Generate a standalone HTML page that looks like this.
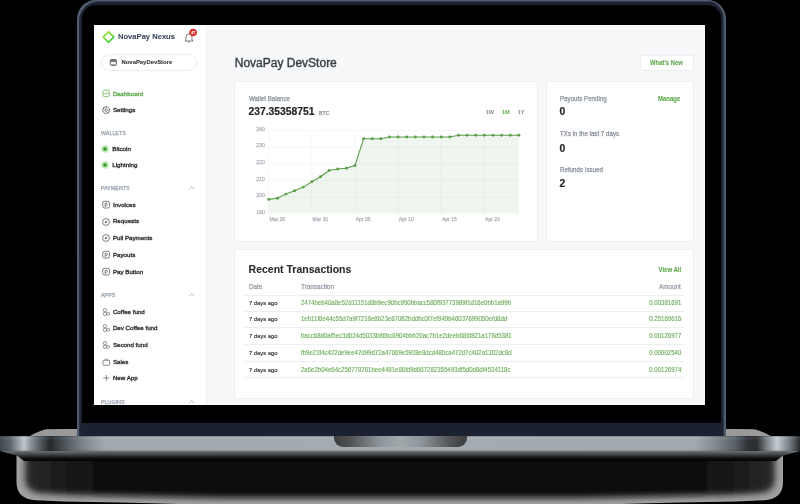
<!DOCTYPE html><html><head><meta charset="utf-8"><style>
*{box-sizing:border-box;margin:0;padding:0}
html,body{width:800px;height:504px;background:#000;overflow:hidden}
body{position:relative;font-family:"Liberation Sans",sans-serif}
.a{position:absolute}
.t{position:absolute;line-height:0;white-space:nowrap;-webkit-text-stroke:0.25px currentColor}
.b{-webkit-text-stroke:0.08px currentColor}
#scr{position:absolute;left:0;top:0;width:800px;height:504px;will-change:transform;clip-path:inset(25.1px 94.6px 98.9px 94.4px);background:#f7f8fa}
.card{position:absolute;background:#fff;border-radius:2px;border:1px solid #eef0f2}
</style></head><body>
<div class="a" style="left:28.5px;top:428.8px;width:50px;height:8px;background:#9a9a9a;clip-path:polygon(0 100%,12% 60%,25% 25%,35% 5%,100% 0,100% 100%)"></div>
<div class="a" style="left:722px;top:428.8px;width:50px;height:8px;background:#9a9a9a;clip-path:polygon(0 0,65% 5%,75% 25%,88% 60%,100% 100%,0 100%)"></div>
<svg class="a" style="left:0;top:440px" width="800" height="64" viewBox="0 440 800 64"><defs><filter id="sb" x="-5%" y="-20%" width="110%" height="140%"><feGaussianBlur stdDeviation="3.2"/></filter><linearGradient id="sg" x1="0" x2="1" y1="0" y2="0"><stop offset="0" stop-color="#2a2a2a"/><stop offset="0.08" stop-color="#121212"/><stop offset="0.25" stop-color="#0a0a0a"/><stop offset="0.75" stop-color="#0a0a0a"/><stop offset="0.92" stop-color="#121212"/><stop offset="1" stop-color="#2a2a2a"/></linearGradient></defs><path d="M16.5,448 L16.5,482 Q16.5,499 36,500.3 L64,501.6 Q140,503 220,505 L580,505 Q660,503 736,501.6 L764,500.3 Q783,499 783,482 L783,448 Z" fill="#a2a2a2"/><path d="M25,440 L25,479 Q25,492.5 42,493.5 L70,495 Q140,496.5 220,498 L580,498 Q660,496.5 730,495 L758,493.5 Q775,492.5 775,479 L775,440 Z" fill="url(#sg)" filter="url(#sb)"/></svg>
<div class="a" style="left:76.8px;top:0;width:649.4px;height:437px;border-radius:19px 19px 0 0;background:#1d2331;box-shadow:inset 2.2px 1.6px 0 #505b6e, inset -2.4px 0 0 #4f5a6d"></div>
<div class="a" style="left:82px;top:4.5px;width:639px;height:419px;border-radius:14px 14px 0 0;background:#000"></div>
<div class="a" style="left:82px;top:423px;width:639px;height:13.5px;background:#1b2130"></div>
<div class="a" style="left:0;top:436px;width:800px;height:15px;background:linear-gradient(to right,#40464b 0,#5b6369 10px,#c0c8ce 24px,#8a9297 31px,#50575c 41px,#25292c 50px,#40464a 60px,#6a7176 75px,#8c9398 90px,#a2aaaf 105px,#a4acb1 400px,#a2aaaf 695px,#848b90 715px,#5a6166 735px,#2e3236 748px,#2a2e31 757px,#7c8388 767px,#c5ccd2 777px,#7a8287 789px,#25282b 800px)"></div>
<div class="a" style="left:0;top:436px;width:800px;height:15px;background:linear-gradient(to bottom,rgba(0,0,0,.35) 0,rgba(255,255,255,.08) 1px,rgba(255,255,255,0) 5px,rgba(0,0,0,0) 13px,rgba(0,0,0,.15) 15px)"></div>
<div class="a" style="left:0;top:451px;width:800px;height:10px;background:linear-gradient(to bottom,#6d7378 0,#3a3d40 4px,#101112 7px,#000 10px);clip-path:polygon(0 0,100% 0,97.8% 50%,97% 100%,3% 100%,2.2% 50%)"></div>
<div class="a" style="left:334px;top:436px;width:133px;height:11px;border-radius:0 0 9px 9px;background:linear-gradient(to right,#3c3c3c 0,#505254 12%,#8f969b 35%,#a3aaae 50%,#8f969b 65%,#505254 88%,#3c3c3c 100%)"></div>
<div id="scr">
<div class="a" style="left:94px;top:24px;width:112.5px;height:382px;background:#fff;border-right:0.6px solid #eceef1"></div>
<svg class="a" style="left:100px;top:29px" width="18" height="17" viewBox="100 29 18 17"><defs><linearGradient id="lg" x1="0" y1="0" x2="1" y2="1"><stop offset="0" stop-color="#a8e22a"/><stop offset="1" stop-color="#1fcc3a"/></linearGradient></defs><path d="M108.5,31.8 L113.8,37.1 L108.5,42.4 L103.2,37.1 Z" fill="none" stroke="url(#lg)" stroke-width="1.6"/></svg>
<div class="t b" style="left:118px;top:37.0px;font-size:7.6px;color:#3d4a5c;font-weight:700;">NovaPay Nexus</div>
<svg class="a" style="left:183px;top:28px" width="16" height="16" viewBox="183 28 16 16"><path d="M186,40 L186,37 Q186,34 189,33.8 Q192,34 192,37 L192,40 L193,41 L185,41 Z" fill="none" stroke="#666" stroke-width="0.85"/><path d="M188,41.8 Q189,42.8 190,41.8" fill="none" stroke="#666" stroke-width="0.7"/><circle cx="193.1" cy="32.5" r="3.8" fill="#d8332b"/></svg>
<div class="t b" style="left:191.3px;top:32.6px;font-size:3.4px;color:#fff;font-weight:700;">47</div>
<div class="a" style="left:101.1px;top:54.1px;width:95.8px;height:17.2px;border:0.9px solid #e9ebee;border-radius:9px"></div>
<svg class="a" style="left:109px;top:58px" width="9" height="9" viewBox="109 58 9 9"><rect x="110.3" y="59.5" width="6.1" height="5.9" rx="1.1" fill="none" stroke="#555" stroke-width="0.9"/><rect x="110.5" y="59.7" width="5.7" height="2.2" fill="#666"/><path d="M111.8,60.4 L111.8,61.2 M113.35,60.4 L113.35,61.2 M114.9,60.4 L114.9,61.2" stroke="#bbb" stroke-width="0.5"/><rect x="111.3" y="63.9" width="4.1" height="0.8" fill="#888"/></svg>
<div class="t b" style="left:121.5px;top:62.3px;font-size:5.9px;color:#333;font-weight:700;">NovaPayDevStore</div>
<svg class="a" style="left:101px;top:88px" width="10" height="10" viewBox="101 88 10 10"><rect x="102.95" y="90.15" width="6.4" height="6.4" rx="1.6" fill="none" stroke="#79b866" stroke-width="0.9"/><path d="M103.6,93.5 L104.9,93.5 L105.6,94.7 L106.6,92.3 L107.3,93.5 L108.7,93.5" fill="none" stroke="#79b866" stroke-width="0.7"/></svg>
<div class="t" style="left:112.9px;top:93.6px;font-size:6.2px;color:#62ab4f;font-weight:400;-webkit-text-stroke:0.35px #62ab4f">Dashboard</div>
<svg class="a" style="left:101px;top:105px" width="10" height="10" viewBox="101 105 10 10"><polygon points="107.07,106.48 108.29,107.91 109.72,109.13 109.09,110.90 108.75,112.75 106.90,113.09 105.13,113.72 103.91,112.29 102.48,111.07 103.11,109.30 103.45,107.45 105.30,107.11" fill="none" stroke="#666" stroke-width="1.0" stroke-linejoin="round"/><circle cx="106.1" cy="110.1" r="1.3" fill="none" stroke="#666" stroke-width="0.8"/></svg>
<div class="t" style="left:112.9px;top:109.9px;font-size:6.2px;color:#333;font-weight:400;-webkit-text-stroke:0.35px #333">Settings</div>
<div class="t" style="left:101px;top:133.1px;font-size:5.35px;color:#9aa2ad;font-weight:400;">WALLETS</div>
<div class="a" style="left:101.10000000000001px;top:145.1px;width:7.6px;height:7.6px;border-radius:50%;background:radial-gradient(circle,#b5e2ad 0,#cdeec8 60%,rgba(220,244,216,0) 100%)"></div><div class="a" style="left:102.80000000000001px;top:146.8px;width:4.2px;height:4.2px;border-radius:50%;background:#45a83a"></div>
<div class="t" style="left:112.3px;top:149.20000000000002px;font-size:6.2px;color:#333;font-weight:400;-webkit-text-stroke:0.35px #333">Bitcoin</div>
<div class="a" style="left:101.10000000000001px;top:161.1px;width:7.6px;height:7.6px;border-radius:50%;background:radial-gradient(circle,#b5e2ad 0,#cdeec8 60%,rgba(220,244,216,0) 100%)"></div><div class="a" style="left:102.80000000000001px;top:162.8px;width:4.2px;height:4.2px;border-radius:50%;background:#45a83a"></div>
<div class="t" style="left:112.3px;top:165.20000000000002px;font-size:6.2px;color:#333;font-weight:400;-webkit-text-stroke:0.35px #333">Lightning</div>
<div class="t" style="left:101px;top:188px;font-size:5.35px;color:#9aa2ad;font-weight:400;">PAYMENTS</div>
<svg class="a" style="left:188px;top:185px" width="8" height="6" viewBox="0 0 8 6"><path d="M1.3,4 L3.7,1.7 L6.1,4" fill="none" stroke="#8e97a3" stroke-width="0.7"/></svg>
<svg class="a" style="left:101px;top:199.9px" width="10" height="10" viewBox="0 0 10 10"><rect x="1.75" y="1.3" width="6.7" height="6.7" rx="1.6" fill="none" stroke="#6e6e6e" stroke-width="0.9"/><path d="M4.2,7 L4.2,3.4 L5.8,3.4 Q6.6,3.6 6.4,4.7 Q6.1,5.5 4.6,5.4" fill="none" stroke="#5e5e5e" stroke-width="0.8"/></svg>
<div class="t" style="left:112.9px;top:204.70000000000002px;font-size:6.2px;color:#333;font-weight:400;-webkit-text-stroke:0.35px #333">Invoices</div>
<svg class="a" style="left:101px;top:216.5px" width="10" height="10" viewBox="0 0 10 10"><circle cx="5" cy="5" r="3.4" fill="none" stroke="#6e6e6e" stroke-width="0.9"/><circle cx="4.8" cy="5.3" r="1" fill="#5e5e5e"/><path d="M4.8,5.3 L6.4,3.4" stroke="#5e5e5e" stroke-width="0.6"/></svg>
<div class="t" style="left:112.9px;top:221.3px;font-size:6.2px;color:#333;font-weight:400;-webkit-text-stroke:0.35px #333">Requests</div>
<svg class="a" style="left:101px;top:233.4px" width="10" height="10" viewBox="0 0 10 10"><circle cx="5" cy="5" r="3.4" fill="none" stroke="#6e6e6e" stroke-width="0.9"/><circle cx="4.8" cy="5.3" r="1" fill="#5e5e5e"/><path d="M4.8,5.3 L6.4,3.4" stroke="#5e5e5e" stroke-width="0.6"/></svg>
<div class="t" style="left:112.9px;top:238.20000000000002px;font-size:6.2px;color:#333;font-weight:400;-webkit-text-stroke:0.35px #333">Pull Payments</div>
<svg class="a" style="left:101px;top:250.2px" width="10" height="10" viewBox="0 0 10 10"><rect x="1.75" y="1.3" width="6.7" height="6.7" rx="1.6" fill="none" stroke="#6e6e6e" stroke-width="0.9"/><path d="M4.2,7 L4.2,3.4 L5.8,3.4 Q6.6,3.6 6.4,4.7 Q6.1,5.5 4.6,5.4" fill="none" stroke="#5e5e5e" stroke-width="0.8"/></svg>
<div class="t" style="left:112.9px;top:255.0px;font-size:6.2px;color:#333;font-weight:400;-webkit-text-stroke:0.35px #333">Payouts</div>
<svg class="a" style="left:101px;top:266.9px" width="10" height="10" viewBox="0 0 10 10"><rect x="1.75" y="1.3" width="6.7" height="6.7" rx="1.6" fill="none" stroke="#6e6e6e" stroke-width="0.9"/><path d="M4.2,7 L4.2,3.4 L5.8,3.4 Q6.6,3.6 6.4,4.7 Q6.1,5.5 4.6,5.4" fill="none" stroke="#5e5e5e" stroke-width="0.8"/></svg>
<div class="t" style="left:112.9px;top:271.7px;font-size:6.2px;color:#333;font-weight:400;-webkit-text-stroke:0.35px #333">Pay Button</div>
<div class="t" style="left:101px;top:295.3px;font-size:5.35px;color:#9aa2ad;font-weight:400;">APPS</div>
<svg class="a" style="left:188px;top:292.3px" width="8" height="6" viewBox="0 0 8 6"><path d="M1.3,4 L3.7,1.7 L6.1,4" fill="none" stroke="#8e97a3" stroke-width="0.7"/></svg>
<svg class="a" style="left:101px;top:306.8px" width="10" height="10" viewBox="0 0 10 10"><circle cx="4" cy="3.2" r="1.7" fill="none" stroke="#6e6e6e" stroke-width="0.7"/><circle cx="4" cy="6.8" r="1.7" fill="none" stroke="#6e6e6e" stroke-width="0.7"/><circle cx="7.3" cy="6.8" r="1.5" fill="none" stroke="#6e6e6e" stroke-width="0.7"/></svg>
<div class="t" style="left:112.9px;top:311.6px;font-size:6.2px;color:#333;font-weight:400;-webkit-text-stroke:0.35px #333">Coffee fund</div>
<svg class="a" style="left:101px;top:323.2px" width="10" height="10" viewBox="0 0 10 10"><circle cx="4" cy="3.2" r="1.7" fill="none" stroke="#6e6e6e" stroke-width="0.7"/><circle cx="4" cy="6.8" r="1.7" fill="none" stroke="#6e6e6e" stroke-width="0.7"/><circle cx="7.3" cy="6.8" r="1.5" fill="none" stroke="#6e6e6e" stroke-width="0.7"/></svg>
<div class="t" style="left:112.9px;top:328.0px;font-size:6.2px;color:#333;font-weight:400;-webkit-text-stroke:0.35px #333">Dev Coffee fund</div>
<svg class="a" style="left:101px;top:340px" width="10" height="10" viewBox="0 0 10 10"><circle cx="4" cy="3.2" r="1.7" fill="none" stroke="#6e6e6e" stroke-width="0.7"/><circle cx="4" cy="6.8" r="1.7" fill="none" stroke="#6e6e6e" stroke-width="0.7"/><circle cx="7.3" cy="6.8" r="1.5" fill="none" stroke="#6e6e6e" stroke-width="0.7"/></svg>
<div class="t" style="left:112.9px;top:344.8px;font-size:6.2px;color:#333;font-weight:400;-webkit-text-stroke:0.35px #333">Second fund</div>
<svg class="a" style="left:101px;top:356.8px" width="10" height="10" viewBox="0 0 10 10"><rect x="2" y="3.3" width="6.6" height="5" rx="0.8" fill="none" stroke="#6e6e6e" stroke-width="0.8"/><path d="M3.8,3.3 L3.8,2.6 Q5.3,0.8 6.8,2.6 L6.8,3.3" fill="none" stroke="#6e6e6e" stroke-width="0.7"/></svg>
<div class="t" style="left:112.9px;top:361.6px;font-size:6.2px;color:#333;font-weight:400;-webkit-text-stroke:0.35px #333">Sales</div>
<svg class="a" style="left:101px;top:373.2px" width="10" height="10" viewBox="0 0 10 10"><path d="M5.3,2 L5.3,8 M2.3,5 L8.3,5" stroke="#6e6e6e" stroke-width="0.8"/></svg>
<div class="t" style="left:112.9px;top:378.0px;font-size:6.2px;color:#333;font-weight:400;-webkit-text-stroke:0.35px #333">New App</div>
<div class="t" style="left:101px;top:401.5px;font-size:5.35px;color:#9aa2ad;font-weight:400;">PLUGINS</div>
<svg class="a" style="left:188px;top:398.5px" width="8" height="6" viewBox="0 0 8 6"><path d="M1.3,4 L3.7,1.7 L6.1,4" fill="none" stroke="#8e97a3" stroke-width="0.7"/></svg>
<div class="t" style="left:234.75px;top:62.6px;font-size:12px;color:#3a3e45;font-weight:400;-webkit-text-stroke:0.4px #3a3e45">NovaPay DevStore</div>
<div class="a" style="left:640.3px;top:54.5px;width:53.7px;height:16.5px;background:#fff;border:0.8px solid #eceef1;border-radius:2.5px;box-shadow:0 0 1px rgba(0,0,0,.04)"></div>
<div class="t b" style="left:650.3px;top:63.2px;font-size:6.556px;color:#5ca549;font-weight:700;transform:scaleX(0.9);transform-origin:left center;">What's New</div>
<div class="card" style="left:234.2px;top:80.5px;width:304.3px;height:161.4px"></div>
<div class="card" style="left:545.6px;top:80.5px;width:148.9px;height:161.4px"></div>
<div class="card" style="left:234.2px;top:248.5px;width:460.3px;height:150.1px"></div>
<div class="t" style="left:248.5px;top:98.6px;font-size:6.458px;color:#8a919a;font-weight:400;transform:scaleX(0.96);transform-origin:left center;">Wallet Balance</div>
<div class="t b" style="left:248.5px;top:112.4px;font-size:10.3px;color:#262626;font-weight:700;-webkit-text-stroke:0.2px #262626">237.35358751</div>
<div class="t" style="left:319px;top:113.4px;font-size:5.2px;color:#8d949c;font-weight:400;">BTC</div>
<div class="t b" style="left:485.8px;top:112.2px;font-size:5.5px;color:#8d949c;font-weight:700;">1W</div>
<div class="t b" style="left:501.9px;top:112.2px;font-size:5.5px;color:#6ab457;font-weight:700;">1M</div>
<div class="t b" style="left:517.7px;top:112.2px;font-size:5.5px;color:#8d949c;font-weight:700;">1Y</div>
<svg class="a" style="left:0;top:0" width="800" height="504" viewBox="0 0 800 504">
<g stroke="#f0f2f3" stroke-width="0.6"><line x1="268.75" x2="518.9" y1="130.4" y2="130.4"/><line x1="268.75" x2="518.9" y1="147.07" y2="147.07"/><line x1="268.75" x2="518.9" y1="163.74" y2="163.74"/><line x1="268.75" x2="518.9" y1="180.41" y2="180.41"/><line x1="268.75" x2="518.9" y1="197.08" y2="197.08"/><line x1="268.75" x2="268.75" y1="130.4" y2="213.75"/><line x1="311.88" x2="311.88" y1="130.4" y2="213.75"/><line x1="355.00" x2="355.00" y1="130.4" y2="213.75"/><line x1="398.12" x2="398.12" y1="130.4" y2="213.75"/><line x1="441.25" x2="441.25" y1="130.4" y2="213.75"/><line x1="484.38" x2="484.38" y1="130.4" y2="213.75"/></g>
<path d="M268.75,213.75 L268.75,199.40 277.38,198.30 286.00,194.10 294.62,190.80 303.25,187.10 311.88,181.70 320.50,176.70 329.12,170.50 337.75,169.00 346.38,168.20 355.00,165.50 363.62,138.70 372.25,138.70 380.88,138.70 389.50,137.00 398.12,137.00 406.75,137.00 415.38,137.00 424.00,137.00 432.62,137.00 441.25,137.00 449.88,137.00 458.50,135.20 467.12,135.20 475.75,135.20 484.38,135.20 493.00,135.20 501.62,135.20 510.25,135.20 518.88,135.20 L518.88,213.75 Z" fill="rgba(90,160,75,0.09)"/>
<polyline points="268.75,199.40 277.38,198.30 286.00,194.10 294.62,190.80 303.25,187.10 311.88,181.70 320.50,176.70 329.12,170.50 337.75,169.00 346.38,168.20 355.00,165.50 363.62,138.70 372.25,138.70 380.88,138.70 389.50,137.00 398.12,137.00 406.75,137.00 415.38,137.00 424.00,137.00 432.62,137.00 441.25,137.00 449.88,137.00 458.50,135.20 467.12,135.20 475.75,135.20 484.38,135.20 493.00,135.20 501.62,135.20 510.25,135.20 518.88,135.20" fill="none" stroke="#5a9e48" stroke-width="1.1"/>
<g fill="#5a9e48"><circle cx="268.75" cy="199.40" r="1.45"/><circle cx="277.38" cy="198.30" r="1.45"/><circle cx="286.00" cy="194.10" r="1.45"/><circle cx="294.62" cy="190.80" r="1.45"/><circle cx="303.25" cy="187.10" r="1.45"/><circle cx="311.88" cy="181.70" r="1.45"/><circle cx="320.50" cy="176.70" r="1.45"/><circle cx="329.12" cy="170.50" r="1.45"/><circle cx="337.75" cy="169.00" r="1.45"/><circle cx="346.38" cy="168.20" r="1.45"/><circle cx="355.00" cy="165.50" r="1.45"/><circle cx="363.62" cy="138.70" r="1.45"/><circle cx="372.25" cy="138.70" r="1.45"/><circle cx="380.88" cy="138.70" r="1.45"/><circle cx="389.50" cy="137.00" r="1.45"/><circle cx="398.12" cy="137.00" r="1.45"/><circle cx="406.75" cy="137.00" r="1.45"/><circle cx="415.38" cy="137.00" r="1.45"/><circle cx="424.00" cy="137.00" r="1.45"/><circle cx="432.62" cy="137.00" r="1.45"/><circle cx="441.25" cy="137.00" r="1.45"/><circle cx="449.88" cy="137.00" r="1.45"/><circle cx="458.50" cy="135.20" r="1.45"/><circle cx="467.12" cy="135.20" r="1.45"/><circle cx="475.75" cy="135.20" r="1.45"/><circle cx="484.38" cy="135.20" r="1.45"/><circle cx="493.00" cy="135.20" r="1.45"/><circle cx="501.62" cy="135.20" r="1.45"/><circle cx="510.25" cy="135.20" r="1.45"/><circle cx="518.88" cy="135.20" r="1.45"/></g>
</svg>
<div class="t" style="right:535.25px;top:128.8px;font-size:5.1px;color:#adb2b8;font-weight:400;">240</div>
<div class="t" style="right:535.25px;top:145.47px;font-size:5.1px;color:#adb2b8;font-weight:400;">230</div>
<div class="t" style="right:535.25px;top:162.14000000000001px;font-size:5.1px;color:#adb2b8;font-weight:400;">220</div>
<div class="t" style="right:535.25px;top:178.81px;font-size:5.1px;color:#adb2b8;font-weight:400;">210</div>
<div class="t" style="right:535.25px;top:195.48000000000002px;font-size:5.1px;color:#adb2b8;font-weight:400;">200</div>
<div class="t" style="right:535.25px;top:212.15px;font-size:5.1px;color:#adb2b8;font-weight:400;">190</div>
<div class="t" style="left:269.45px;top:219.0px;font-size:5.05px;color:#adb2b8;font-weight:400;">Mar 26</div>
<div class="t" style="left:312.575px;top:219.0px;font-size:5.05px;color:#adb2b8;font-weight:400;">Mar 31</div>
<div class="t" style="left:355.7px;top:219.0px;font-size:5.05px;color:#adb2b8;font-weight:400;">Apr 05</div>
<div class="t" style="left:398.825px;top:219.0px;font-size:5.05px;color:#adb2b8;font-weight:400;">Apr 10</div>
<div class="t" style="left:441.95px;top:219.0px;font-size:5.05px;color:#adb2b8;font-weight:400;">Apr 15</div>
<div class="t" style="left:485.075px;top:219.0px;font-size:5.05px;color:#adb2b8;font-weight:400;">Apr 20</div>
<div class="t" style="left:559.6px;top:98.6px;font-size:6.458px;color:#8a919a;font-weight:400;transform:scaleX(0.96);transform-origin:left center;">Payouts Pending</div>
<div class="t b" style="left:658px;top:99.1px;font-size:6.667px;color:#5ca549;font-weight:700;transform:scaleX(0.9);transform-origin:left center;">Manage</div>
<div class="t b" style="left:559.6px;top:112.3px;font-size:10.3px;color:#262626;font-weight:700;-webkit-text-stroke:0.2px #262626">0</div>
<div class="t" style="left:559.6px;top:134.3px;font-size:6.458px;color:#8a919a;font-weight:400;transform:scaleX(0.96);transform-origin:left center;">TXs in the last 7 days</div>
<div class="t b" style="left:559.6px;top:148.5px;font-size:10.3px;color:#262626;font-weight:700;-webkit-text-stroke:0.2px #262626">0</div>
<div class="t" style="left:559.6px;top:170.4px;font-size:6.458px;color:#8a919a;font-weight:400;transform:scaleX(0.96);transform-origin:left center;">Refunds Issued</div>
<div class="t b" style="left:559.6px;top:184.3px;font-size:10.3px;color:#262626;font-weight:700;-webkit-text-stroke:0.2px #262626">2</div>
<div class="t b" style="left:248.6px;top:269.3px;font-size:10.5px;color:#2b2b2b;font-weight:700;">Recent Transactions</div>
<div class="t b" style="right:119.20000000000005px;top:269.6px;font-size:6.667px;color:#5ca549;font-weight:700;transform:scaleX(0.9);transform-origin:right center;">View All</div>
<div class="t" style="left:248.6px;top:287.0px;font-size:6.615px;color:#99a0a8;font-weight:400;transform:scaleX(0.96);transform-origin:left center;">Date</div>
<div class="t" style="left:300.6px;top:287.0px;font-size:6.615px;color:#99a0a8;font-weight:400;transform:scaleX(0.96);transform-origin:left center;">Transaction</div>
<div class="t" style="right:119.20000000000005px;top:287.0px;font-size:6.615px;color:#99a0a8;font-weight:400;transform:scaleX(0.96);transform-origin:right center;">Amount</div>
<div class="a" style="left:245px;top:294.5px;width:439.3px;height:0.6px;background:#eceef0"></div>
<div class="a" style="left:245px;top:310.7px;width:439.3px;height:0.6px;background:#eceef0"></div>
<div class="a" style="left:245px;top:327.3px;width:439.3px;height:0.6px;background:#eceef0"></div>
<div class="a" style="left:245px;top:344.0px;width:439.3px;height:0.6px;background:#eceef0"></div>
<div class="a" style="left:245px;top:360.7px;width:439.3px;height:0.6px;background:#eceef0"></div>
<div class="a" style="left:245px;top:377.3px;width:439.3px;height:0.6px;background:#eceef0"></div>
<div class="t" style="left:248.8px;top:303.1px;font-size:6.094px;color:#333;font-weight:400;transform:scaleX(0.96);transform-origin:left center;-webkit-text-stroke:0.15px #333">7 days ago</div>
<div class="t" style="left:300.7px;top:303.1px;font-size:6.323px;color:#6aac58;font-weight:400;transform:scaleX(0.96);transform-origin:left center;-webkit-text-stroke:0.12px #6aac58">2474beb40a8e52d11151d8b9ec90bc950bbacc580f93773989f1d16e0bb1a99b</div>
<div class="t" style="right:119.20000000000005px;top:303.1px;font-size:6.302px;color:#6aac58;font-weight:400;transform:scaleX(0.96);transform-origin:right center;-webkit-text-stroke:0.12px #6aac58">0.00381691</div>
<div class="t" style="left:248.8px;top:319.3px;font-size:6.094px;color:#333;font-weight:400;transform:scaleX(0.96);transform-origin:left center;-webkit-text-stroke:0.15px #333">7 days ago</div>
<div class="t" style="left:300.7px;top:319.3px;font-size:6.323px;color:#6aac58;font-weight:400;transform:scaleX(0.96);transform-origin:left center;-webkit-text-stroke:0.12px #6aac58">1eb11f8e44c55d7a9f7218e8b23e87082bddbc0f7ef949b46037699050efd8dd</div>
<div class="t" style="right:119.20000000000005px;top:319.3px;font-size:6.302px;color:#6aac58;font-weight:400;transform:scaleX(0.96);transform-origin:right center;-webkit-text-stroke:0.12px #6aac58">0.25169615</div>
<div class="t" style="left:248.8px;top:336.2px;font-size:6.094px;color:#333;font-weight:400;transform:scaleX(0.96);transform-origin:left center;-webkit-text-stroke:0.15px #333">7 days ago</div>
<div class="t" style="left:300.7px;top:336.2px;font-size:6.323px;color:#6aac58;font-weight:400;transform:scaleX(0.96);transform-origin:left center;-webkit-text-stroke:0.12px #6aac58">bacc68d0af5ec3d024d5033b86bc6904bbb20ac7b1e2deeb686f821a178d5381</div>
<div class="t" style="right:119.20000000000005px;top:336.2px;font-size:6.302px;color:#6aac58;font-weight:400;transform:scaleX(0.96);transform-origin:right center;-webkit-text-stroke:0.12px #6aac58">0.00126977</div>
<div class="t" style="left:248.8px;top:352.9px;font-size:6.094px;color:#333;font-weight:400;transform:scaleX(0.96);transform-origin:left center;-webkit-text-stroke:0.15px #333">7 days ago</div>
<div class="t" style="left:300.7px;top:352.9px;font-size:6.323px;color:#6aac58;font-weight:400;transform:scaleX(0.96);transform-origin:left center;-webkit-text-stroke:0.12px #6aac58">fb9e23f4c422de9ee47d99d72a47069e5928e8dcd480ca472d7c402a1302dc8d</div>
<div class="t" style="right:119.20000000000005px;top:352.9px;font-size:6.302px;color:#6aac58;font-weight:400;transform:scaleX(0.96);transform-origin:right center;-webkit-text-stroke:0.12px #6aac58">0.00002540</div>
<div class="t" style="left:248.8px;top:369.5px;font-size:6.094px;color:#333;font-weight:400;transform:scaleX(0.96);transform-origin:left center;-webkit-text-stroke:0.15px #333">7 days ago</div>
<div class="t" style="left:300.7px;top:369.5px;font-size:6.323px;color:#6aac58;font-weight:400;transform:scaleX(0.96);transform-origin:left center;-webkit-text-stroke:0.12px #6aac58">2a6e2b04e64c256778761bee4481e86fd9d667282355493df5d0d8df4534118c</div>
<div class="t" style="right:119.20000000000005px;top:369.5px;font-size:6.302px;color:#6aac58;font-weight:400;transform:scaleX(0.96);transform-origin:right center;-webkit-text-stroke:0.12px #6aac58">0.00126974</div>
</div>
</body></html>
